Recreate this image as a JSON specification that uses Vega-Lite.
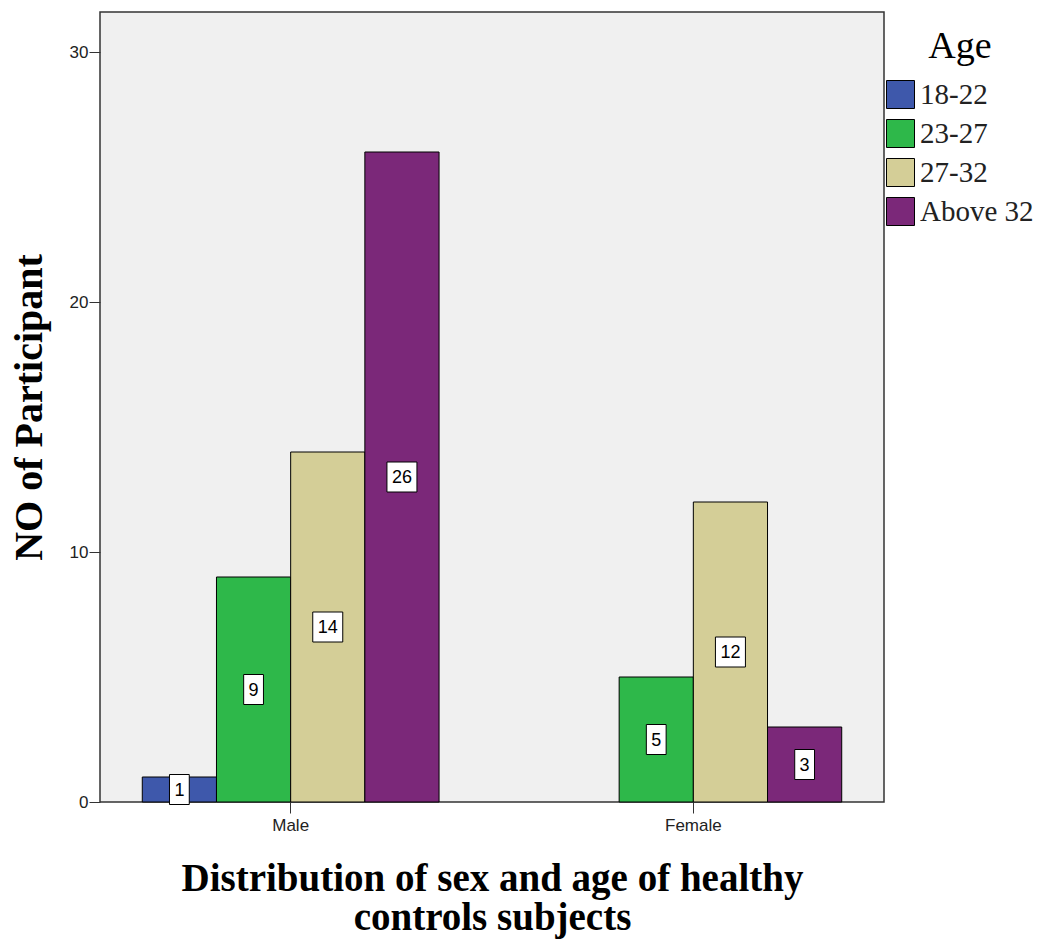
{
  "$schema": "https://vega.github.io/schema/vega-lite/v6.json",
  "width": 784,
  "height": 790,
  "autosize": {"type": "none"},
  "padding": {"left": 100, "top": 12, "right": 155, "bottom": 138},
  "background": "white",
  "config": {
    "view": {"fill": "#f0f0f0", "stroke": "#333333", "strokeWidth": 1.5}
  },
  "data": {
    "values": [
      {"sex": "Male", "age": "18-22", "n": 1},
      {"sex": "Male", "age": "23-27", "n": 9},
      {"sex": "Male", "age": "27-32", "n": 14},
      {"sex": "Male", "age": "Above 32", "n": 26},
      {"sex": "Female", "age": "23-27", "n": 5},
      {"sex": "Female", "age": "27-32", "n": 12},
      {"sex": "Female", "age": "Above 32", "n": 3}
    ]
  },
  "transform": [{"calculate": "datum.n / 2", "as": "mid"}],
  "encoding": {
    "x": {
      "field": "sex",
      "type": "nominal",
      "sort": ["Male", "Female"],
      "scale": {"paddingInner": 0.263, "paddingOuter": 0.105},
      "axis": {
        "title": ["Distribution of sex and age of healthy", "controls subjects"],
        "titleFont": "Liberation Serif",
        "titleFontWeight": "bold",
        "titleFontSize": 39,
        "titleLineHeight": 39,
        "titleColor": "black",
        "titlePadding": 26,
        "labelFont": "Liberation Sans",
        "labelFontSize": 17,
        "labelColor": "#222222",
        "labelAngle": 0,
        "labelPadding": 4,
        "tickSize": 11,
        "tickColor": "#333333",
        "domain": false,
        "grid": false
      }
    },
    "xOffset": {
      "field": "age",
      "type": "nominal",
      "scale": {"domain": ["18-22", "23-27", "27-32", "Above 32"], "paddingInner": 0, "paddingOuter": 0}
    }
  },
  "layer": [
    {
      "mark": {"type": "bar", "stroke": "black", "strokeWidth": 1},
      "encoding": {
        "y": {
          "field": "n",
          "type": "quantitative",
          "title": "NO of Participant",
          "scale": {"domain": [0, 31.6], "nice": false},
          "axis": {
            "values": [0, 10, 20, 30],
            "grid": false,
            "domain": false,
            "tickSize": 11,
            "tickColor": "#333333",
            "labelFont": "Liberation Sans",
            "labelFontSize": 17,
            "labelColor": "#222222",
            "labelPadding": 1,
            "titleFont": "Liberation Serif",
            "titleFontWeight": "bold",
            "titleFontSize": 40,
            "titleColor": "black",
            "titlePadding": 20
          }
        },
        "color": {
          "field": "age",
          "type": "nominal",
          "scale": {"domain": ["18-22", "23-27", "27-32", "Above 32"], "range": ["#3e58ab", "#2eb84a", "#d4ce97", "#7b2879"]},
          "legend": {
            "title": "Age",
            "orient": "none",
            "legendX": 786,
            "legendY": 16,
            "padding": 0,
            "titleFont": "Liberation Serif",
            "titleFontSize": 38,
            "titleFontWeight": "normal",
            "titleColor": "black",
            "titleAnchor": "middle",
            "titlePadding": 14,
            "labelFont": "Liberation Serif",
            "labelFontSize": 29,
            "labelColor": "#222222",
            "labelOffset": 5,
            "symbolType": "square",
            "symbolSize": 784,
            "symbolStrokeColor": "black",
            "symbolStrokeWidth": 1,
            "symbolOpacity": 1,
            "rowPadding": 6
          }
        }
      }
    },
    {
      "transform": [{"filter": "datum.n < 10"}],
      "mark": {"type": "point", "shape": "M-0.66,-1H0.66V1H-0.66Z", "filled": true, "fill": "white", "stroke": "black", "strokeWidth": 1, "opacity": 1, "size": 900},
      "encoding": {
        "y": {"field": "mid", "type": "quantitative", "title": "NO of Participant"}
      }
    },
    {
      "transform": [{"filter": "datum.n >= 10"}],
      "mark": {"type": "point", "shape": "M-1,-1H1V1H-1Z", "filled": true, "fill": "white", "stroke": "black", "strokeWidth": 1, "opacity": 1, "size": 900},
      "encoding": {
        "y": {"field": "mid", "type": "quantitative", "title": "NO of Participant"}
      }
    },
    {
      "mark": {"type": "text", "font": "Liberation Sans", "fontSize": 18, "color": "black", "align": "center", "baseline": "middle", "dy": 1},
      "encoding": {
        "y": {"field": "mid", "type": "quantitative", "title": "NO of Participant"},
        "text": {"field": "n", "type": "quantitative"}
      }
    }
  ]
}
